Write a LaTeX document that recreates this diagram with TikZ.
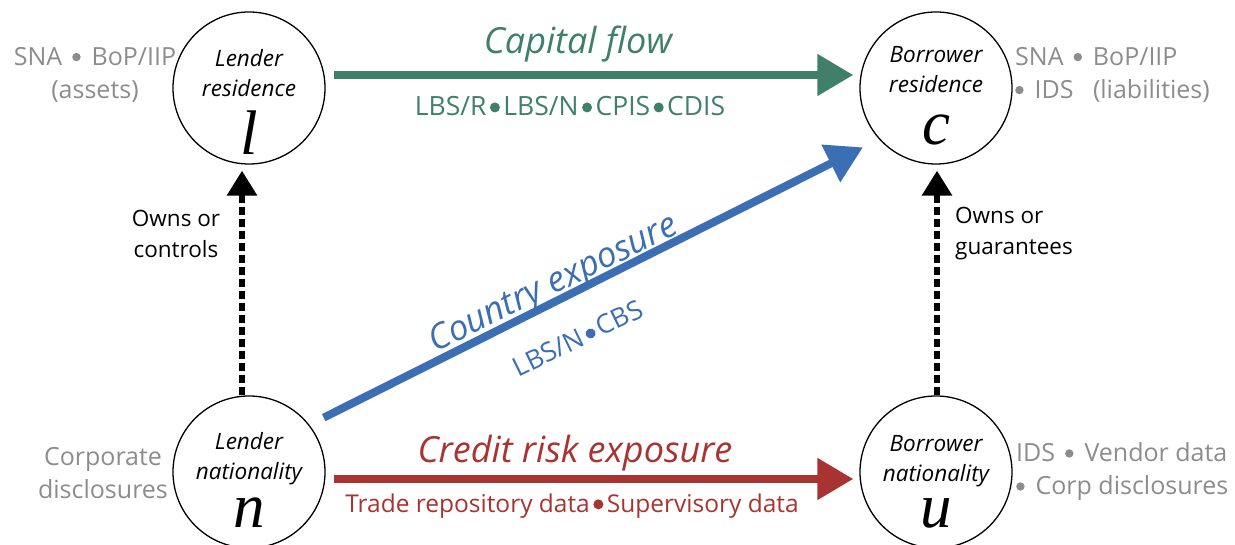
\documentclass[tikz,border=0pt]{standalone}
\usepackage{fontspec}
\setmainfont{Open Sans}
\newfontfamily\mathlet{Liberation Serif}
\usetikzlibrary{arrows.meta}
\definecolor{cgreen}{RGB}{64,128,106}
\definecolor{cblue}{RGB}{59,110,178}
\definecolor{cred}{RGB}{168,51,48}
\definecolor{cgray}{RGB}{140,140,140}
\newcommand{\bdot}[1]{\hspace{3.5pt}\tikz[baseline=0pt]\fill[#1] (0pt,8pt) circle (5pt);\hspace{3.5pt}}
\newcommand{\gdot}{\hspace{10pt}\tikz[baseline=0pt]\fill[cgray] (0pt,8.5pt) circle (4.2pt);\hspace{11pt}}
\newcommand{\gdotl}{\tikz[baseline=0pt]\fill[cgray] (0pt,8.5pt) circle (4.2pt);\hspace{11pt}}
\begin{document}
\begin{tikzpicture}[x=1pt,y=1pt,
  circ/.style={circle, draw, line width=1.3pt, minimum size=152pt, inner sep=0pt},
  inlabel/.style={font=\fontsize{22.5}{30}\selectfont\itshape, align=center, inner sep=0pt},
  bigletter/.style={font=\fontsize{63}{63}\selectfont\mathlet\itshape, anchor=base, inner sep=0pt},
  side/.style={text=cgray, font=\fontsize{25}{33}\selectfont, inner sep=0pt},
  owns/.style={font=\fontsize{22.5}{31}\selectfont, inner sep=0pt},
  title/.style={font=\fontsize{36}{36}\selectfont\itshape, inner sep=0pt},
  src/.style={font=\fontsize{26.5}{26.5}\selectfont, inner sep=0pt},
  flow/.style={line width=8pt, -{Triangle[length=36pt,width=40pt]}},
  own/.style={line width=6pt, dash pattern=on 8pt off 4pt, -{Triangle[length=25pt,width=29pt]}}
]
\useasboundingbox (0,0) rectangle (1235,545);
% circles
\node[circ] (l) at (249,457) {};
\node[circ] (c) at (936,457) {};
\node[circ] (n) at (249,73) {};
\node[circ] (u) at (936,73) {};
% inner labels
\node[inlabel] (lt) at (249,472) {Lender\\residence};
\node[inlabel] (ct) at (936,475) {Borrower\\residence};
\node[inlabel] (nt) at (249,86) {Lender\\nationality};
\node[inlabel] (ut) at (936,84) {Borrower\\nationality};
\node[bigletter] (ll) at (249,390) {l};
\node[bigletter] (cl) at (936,400) {c};
\node[bigletter] (nl) at (249,17) {n};
\node[bigletter] (ul) at (936,17) {u};
% side labels
\node[side, align=center] (s1) at (95,470) {SNA\gdot BoP/IIP\\(assets)};
\node[side, align=left, anchor=west] (s2) at (1015,470) {SNA\gdot BoP/IIP\\\gdotl IDS\ \ \ (liabilities)};
\node[side, align=center] (s3) at (103,72) {Corporate\\disclosures};
\node[side, align=left, anchor=west] (s4) at (1016,73) {IDS\gdot Vendor data\\\gdotl Corp disclosures};
% ownership arrows
\draw[own, shorten >=6pt] ([xshift=-7pt]n.north) -- ([xshift=-7pt]l.south);
\draw[own, shorten >=6pt] ([xshift=1pt]u.north) -- ([xshift=1pt]c.south);
\node[owns, align=center] (o1) at (176,311) {Owns or\\controls};
\node[owns, align=left, anchor=west] (o2) at (955,311) {Owns or\\guarantees};
% flows
\draw[flow, cgreen, shorten <=8pt, shorten >=6pt] ([yshift=13pt]l.east) -- ([yshift=13pt]c.west);
\node[title, text=cgreen] (cf) at (578,501) {Capital flow};
\node[src, text=cgreen] (cfs) at (570,439) {LBS/R\bdot{cgreen}LBS/N\bdot{cgreen}CPIS\bdot{cgreen}CDIS};
\draw[flow, cred, shorten <=8pt, shorten >=6pt] ([yshift=-7pt]n.east) -- ([yshift=-7pt]u.west);
\node[title, text=cred] (cr) at (575,92) {Credit risk exposure};
\node[src, text=cred, font=\fontsize{24.5}{24.5}\selectfont] (crs) at (572,39) {Trade repository data\bdot{cred}Supervisory data};
\draw[flow, cblue, shorten <=16pt, shorten >=18pt] (n.38) -- (c.222);
\node[title, text=cblue, rotate=26, font=\fontsize{35}{35}\selectfont\itshape] (ce) at (554,260) {Country exposure};
\node[src, text=cblue, rotate=26] (ces) at (578,207) {LBS/N\bdot{cblue}CBS};
\end{tikzpicture}
\end{document}
